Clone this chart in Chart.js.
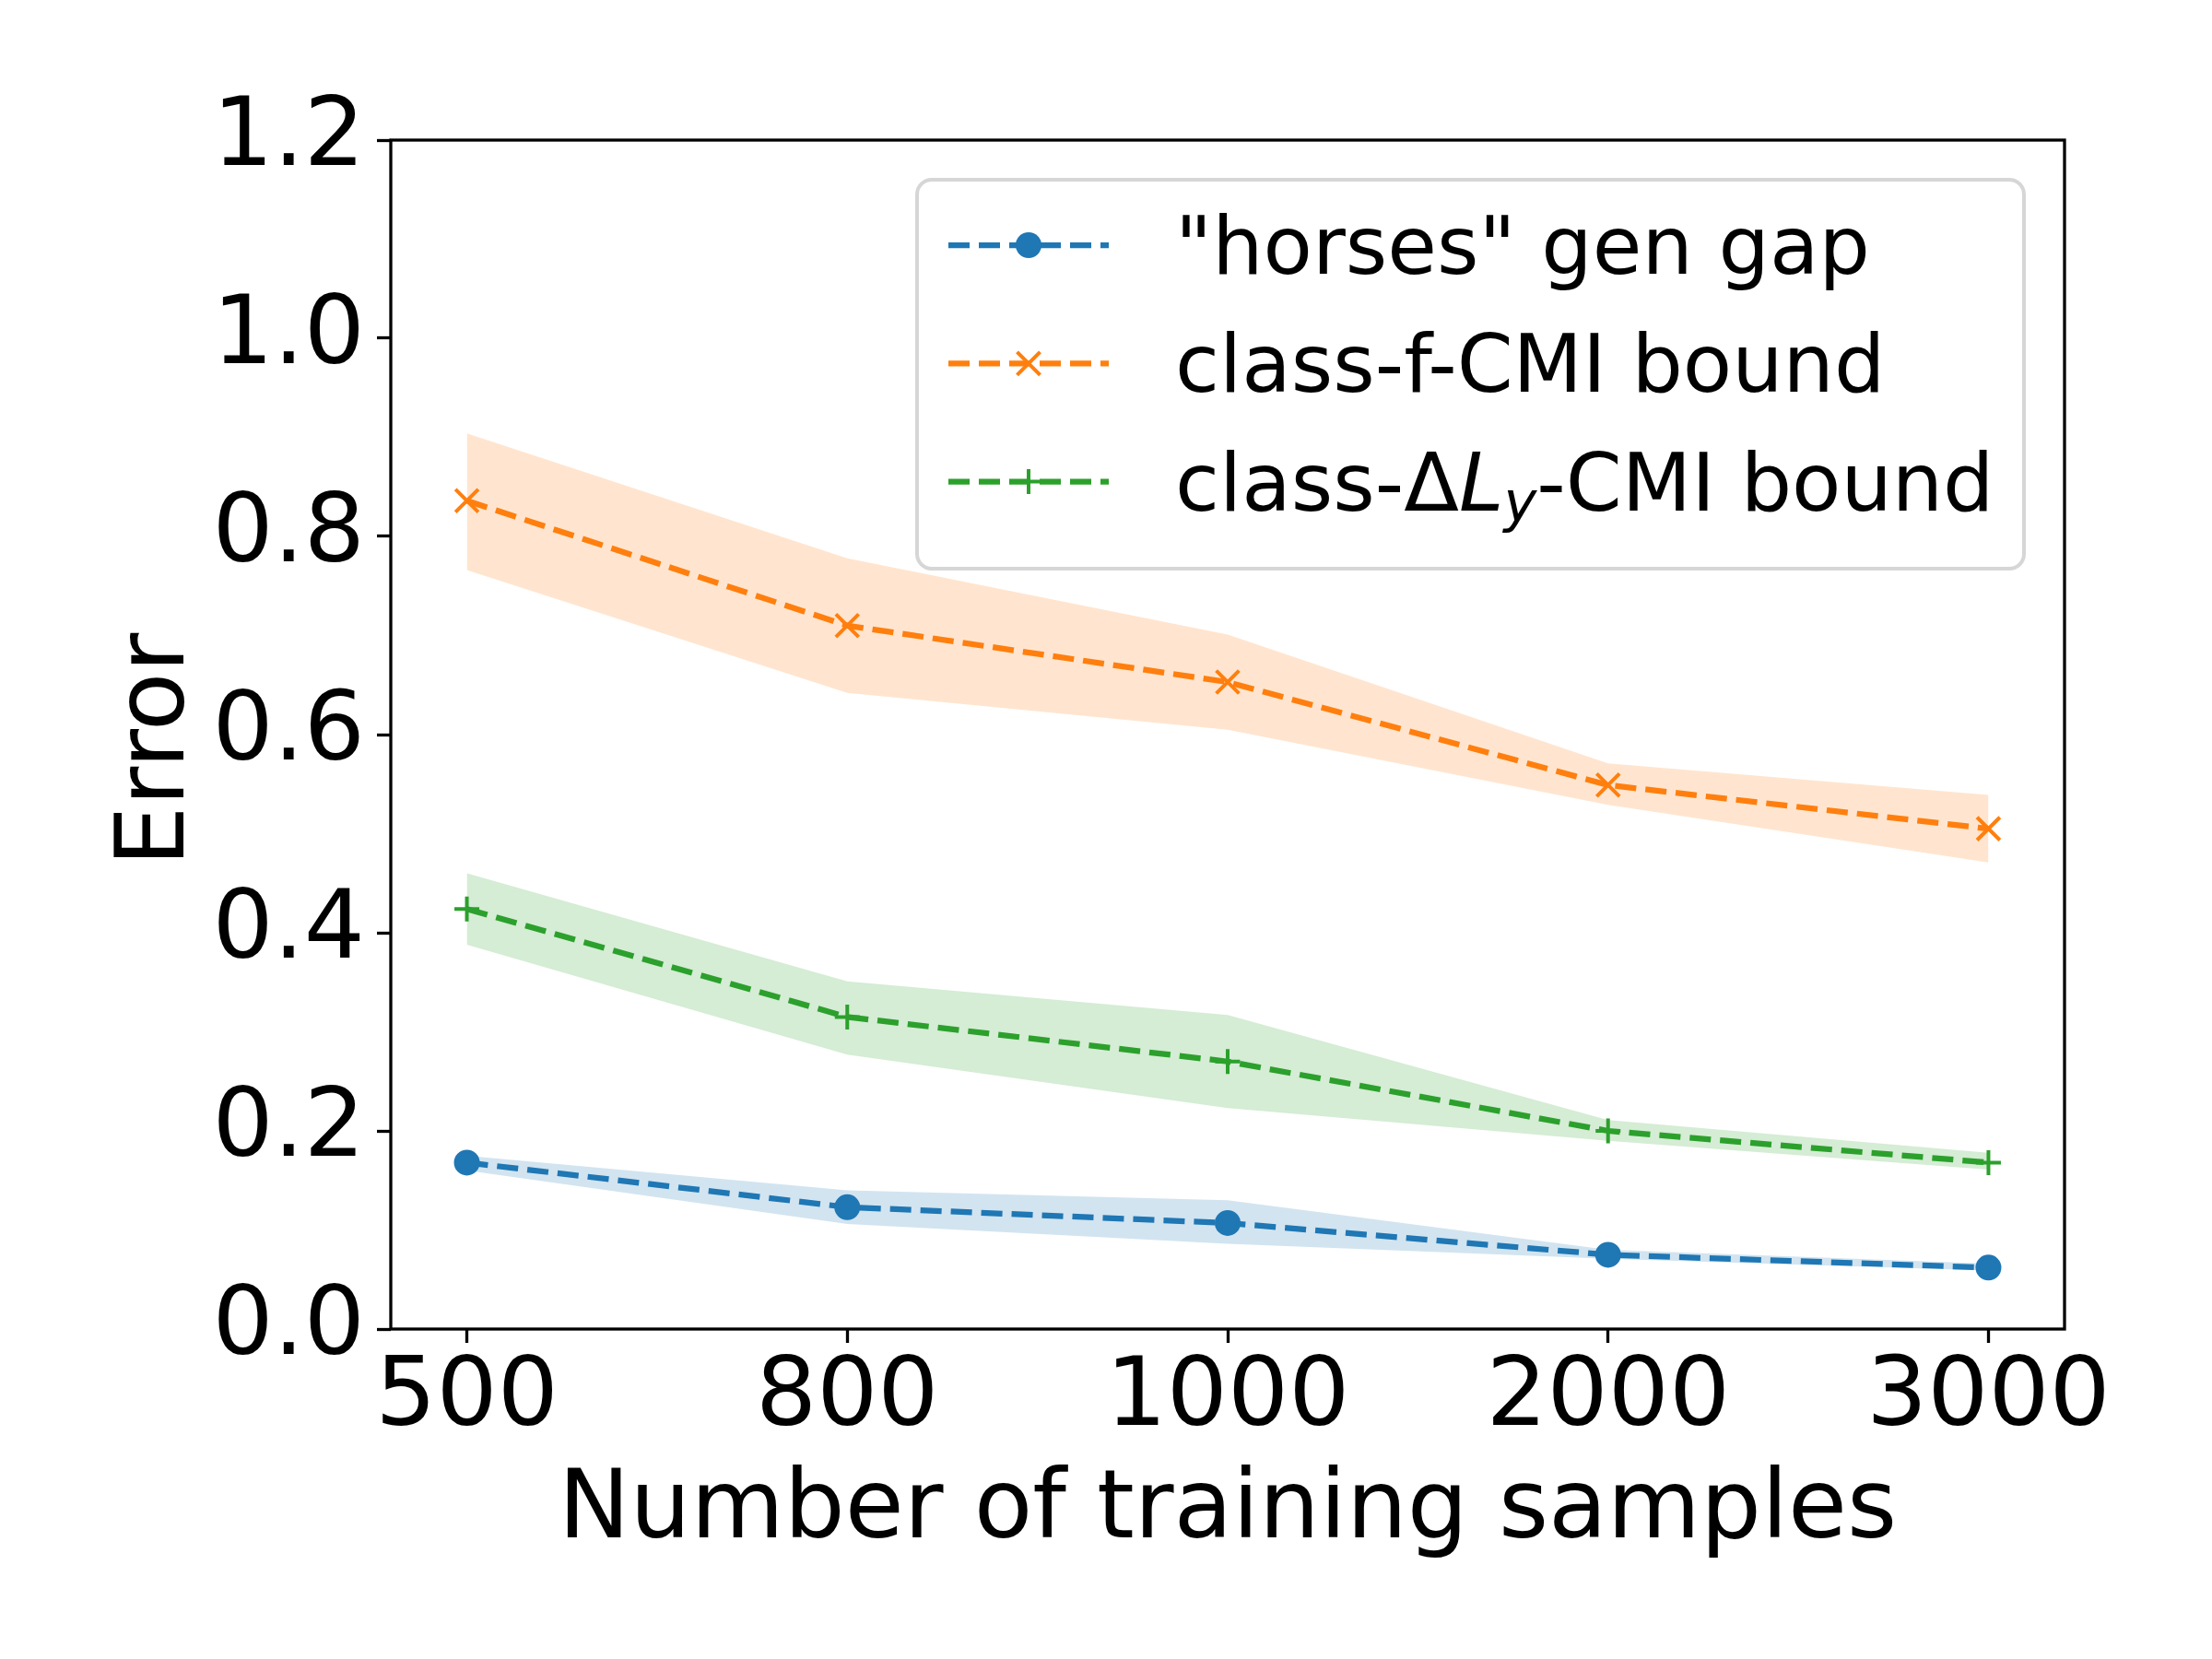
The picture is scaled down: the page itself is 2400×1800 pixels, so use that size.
<!DOCTYPE html>
<html>
<head>
<meta charset="utf-8">
<script src="https://cdn.jsdelivr.net/npm/chart.js@4.4.1/dist/chart.umd.min.js"></script>
<style>
    html, body { margin: 0; padding: 0; background: #fff; }
    #wrap { width: 2400px; height: 1800px; }
</style>
</head>
<body>
<div id="wrap"><canvas id="errChart" width="2400" height="1800"></canvas></div>
<script>
// Values
const sampleSizes = ['500', '800', '1000', '2000', '3000'];
const yTicks = [0, 0.2, 0.4, 0.6, 0.8, 1.0, 1.2];

const horsesGap   = [0.168, 0.123, 0.107, 0.075, 0.062];
const horsesUpper = [0.175, 0.140, 0.130, 0.080, 0.066];
const horsesLower = [0.160, 0.106, 0.086, 0.071, 0.059];

const fCmiBound = [0.836, 0.710, 0.653, 0.549, 0.505];
const fCmiUpper = [0.904, 0.778, 0.701, 0.571, 0.539];
const fCmiLower = [0.766, 0.642, 0.605, 0.529, 0.471];

const dlCmiBound = [0.424, 0.315, 0.270, 0.200, 0.168];
const dlCmiUpper = [0.460, 0.351, 0.317, 0.211, 0.178];
const dlCmiLower = [0.388, 0.277, 0.223, 0.190, 0.161];

const colors = {
    blue: 'rgb(31, 119, 180)',
    orange: 'rgb(255, 127, 14)',
    green: 'rgb(44, 160, 44)'
};
const bands = {
    blue: 'rgba(31, 119, 180, 0.2)',
    orange: 'rgba(255, 127, 14, 0.2)',
    green: 'rgba(44, 160, 44, 0.2)'
};

const FONT = "'DejaVu Sans', sans-serif";
const xIdx = sampleSizes.map((s, i) => i);

function toPoints(values) {
    return values.map((v, i) => ({ x: xIdx[i], y: v }));
}

function lineSet(label, values, color, style, radius) {
    return {
        label: label,
        data: toPoints(values),
        borderColor: color,
        backgroundColor: color,
        borderWidth: 6.25,
        borderDash: [23, 10],
        fill: false,
        tension: 0,
        pointStyle: style,
        pointRadius: radius,
        pointBorderWidth: 4,
        pointBorderColor: color,
        pointBackgroundColor: color,
        order: 0
    };
}

function bandSet(values, fillColor, fillTarget) {
    return {
        data: toPoints(values),
        borderWidth: 0,
        pointRadius: 0,
        backgroundColor: fillColor,
        fill: fillTarget,
        order: 1
    };
}

// legend entries, third label has math runs
const legendItems = [
    { color: colors.blue, marker: 'circle', runs: [{ t: '"horses" gen gap' }] },
    { color: colors.orange, marker: 'x', runs: [{ t: 'class-f-CMI bound' }] },
    { color: colors.green, marker: 'plus', runs: [
        { t: 'class-Δ' },
        { t: 'L', italic: true },
        { t: 'y', italic: true, sub: true },
        { t: '-CMI bound' }
    ] }
];

function drawMarker(ctx, kind, x, y, color) {
    ctx.fillStyle = color;
    ctx.strokeStyle = color;
    ctx.lineWidth = 4;
    ctx.beginPath();
    if (kind === 'circle') {
        ctx.arc(x, y, 14, 0, Math.PI * 2);
        ctx.fill();
    } else if (kind === 'x') {
        ctx.moveTo(x - 12.5, y - 12.5); ctx.lineTo(x + 12.5, y + 12.5);
        ctx.moveTo(x - 12.5, y + 12.5); ctx.lineTo(x + 12.5, y - 12.5);
        ctx.stroke();
    } else {
        ctx.moveTo(x - 13.5, y); ctx.lineTo(x + 13.5, y);
        ctx.moveTo(x, y - 13.5); ctx.lineTo(x, y + 13.5);
        ctx.stroke();
    }
}

const spinePlugin = {
    id: 'spines',
    afterDatasetsDraw(chart) {
        const { ctx, chartArea } = chart;
        ctx.save();
        ctx.strokeStyle = '#000';
        ctx.lineWidth = 3.3;
        ctx.strokeRect(chartArea.left, chartArea.top, chartArea.right - chartArea.left, chartArea.bottom - chartArea.top);
        ctx.restore();
    }
};

const legendPlugin = {
    id: 'mplLegend',
    afterDraw(chart) {
        const { ctx, chartArea } = chart;
        const boxW = 1201, boxH = 422, r = 16;
        const x0 = chartArea.right - 44 - boxW;
        const y0 = chartArea.top + 43;
        ctx.save();
        ctx.beginPath();
        ctx.moveTo(x0 + r, y0);
        ctx.arcTo(x0 + boxW, y0, x0 + boxW, y0 + boxH, r);
        ctx.arcTo(x0 + boxW, y0 + boxH, x0, y0 + boxH, r);
        ctx.arcTo(x0, y0 + boxH, x0, y0, r);
        ctx.arcTo(x0, y0, x0 + boxW, y0, r);
        ctx.closePath();
        ctx.fillStyle = 'rgba(255, 255, 255, 0.8)';
        ctx.fill();
        ctx.lineWidth = 4;
        ctx.strokeStyle = 'rgba(204, 204, 204, 0.8)';
        ctx.stroke();

        legendItems.forEach((item, i) => {
            const cy = y0 + 71 + i * 128.3;
            ctx.setLineDash([23, 10]);
            ctx.lineWidth = 6.25;
            ctx.strokeStyle = item.color;
            ctx.beginPath();
            ctx.moveTo(x0 + 34, cy);
            ctx.lineTo(x0 + 208, cy);
            ctx.stroke();
            ctx.setLineDash([]);
            drawMarker(ctx, item.marker, x0 + 121, cy, item.color);

            let tx = x0 + 280;
            const base = cy + 31;
            ctx.fillStyle = '#000';
            ctx.textBaseline = 'alphabetic';
            ctx.textAlign = 'left';
            item.runs.forEach(run => {
                const size = run.sub ? 60.5 : 87.3;
                ctx.font = (run.italic ? 'italic ' : '') + size + 'px ' + FONT;
                ctx.fillText(run.t, tx, base + (run.sub ? 12 : 0));
                tx += ctx.measureText(run.t).width;
            });
        });
        ctx.restore();
    }
};

Chart.defaults.font.family = FONT;
Chart.defaults.color = '#000';

new Chart(document.getElementById('errChart'), {
    type: 'line',
    data: {
        datasets: [
            lineSet('"horses" gen gap', horsesGap, colors.blue, 'circle', 12),
            lineSet('class-f-CMI bound', fCmiBound, colors.orange, 'crossRot', 17.5),
            lineSet('class-ΔLy-CMI bound', dlCmiBound, colors.green, 'cross', 13.5),
            bandSet(horsesUpper, bands.blue, false),
            bandSet(horsesLower, bands.blue, '-1'),
            bandSet(fCmiUpper, bands.orange, false),
            bandSet(fCmiLower, bands.orange, '-1'),
            bandSet(dlCmiUpper, bands.green, false),
            bandSet(dlCmiLower, bands.green, '-1')
        ]
    },
    options: {
        responsive: false,
        devicePixelRatio: 1,
        animation: false,
        layout: { padding: { top: 152, right: 160, left: 0, bottom: 0 } },
        plugins: {
            legend: { display: false },
            tooltip: { enabled: false }
        },
        scales: {
            x: {
                type: 'linear',
                min: -0.2,
                max: 4.2,
                afterBuildTicks: scale => { scale.ticks = xIdx.map(v => ({ value: v })); },
                afterFit: scale => { scale.height = 358; },
                ticks: {
                    font: { size: 104, lineHeight: 1 },
                    padding: 10,
                    maxRotation: 0,
                    autoSkip: false,
                    callback: value => sampleSizes[value]
                },
                grid: {
                    drawOnChartArea: false,
                    tickLength: 15,
                    tickWidth: 3.3,
                    tickColor: '#000'
                },
                border: { display: false },
                title: {
                    display: true,
                    text: 'Number of training samples',
                    font: { size: 104, lineHeight: 1.2 },
                    padding: { top: 0, bottom: 97 }
                }
            },
            y: {
                min: 0,
                max: 1.2,
                afterBuildTicks: scale => { scale.ticks = yTicks.map(v => ({ value: v })); },
                afterFit: scale => { scale.width = 424; },
                ticks: {
                    font: { size: 104, lineHeight: 1 },
                    padding: 13,
                    callback: value => value.toFixed(1)
                },
                grid: {
                    drawOnChartArea: false,
                    tickLength: 15,
                    tickWidth: 3.3,
                    tickColor: '#000'
                },
                border: { display: false },
                title: {
                    display: true,
                    // trailing space nudges the centred label down like matplotlib's
                    text: 'Error ',
                    font: { size: 104, lineHeight: 1.2 },
                    padding: { top: 110, bottom: 0 }
                }
            }
        }
    },
    plugins: [spinePlugin, legendPlugin]
});
</script>
</body>
</html>
